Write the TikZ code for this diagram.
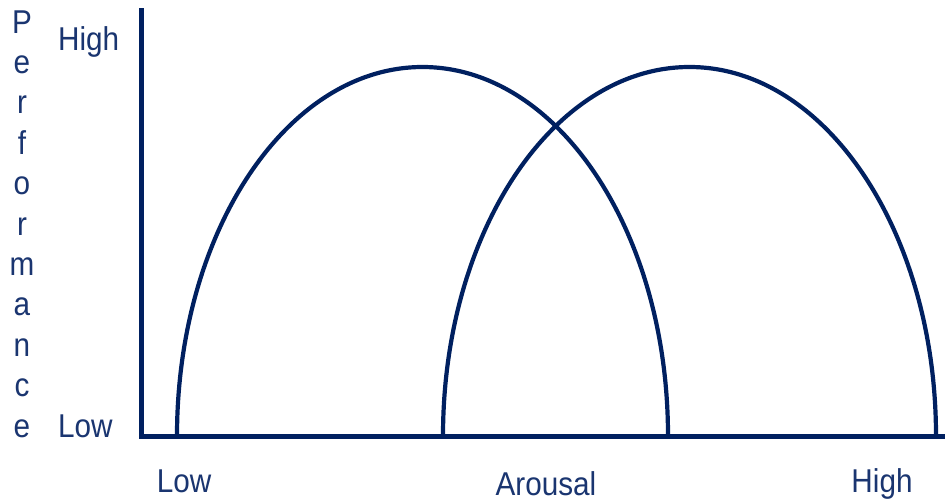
\documentclass[tikz,border=0pt]{standalone}
\usepackage{fontspec}
\setmainfont{Liberation Sans}[FakeStretch=0.9]
\definecolor{navy}{HTML}{002060}
\definecolor{txt}{HTML}{1A3570}
\begin{document}
\begin{tikzpicture}[x=1pt,y=-1pt,
  axisline/.style={draw=navy,line width=5pt,line cap=rect,line join=miter},
  curve/.style={draw=navy,line width=4.2pt},
  lbl/.style={text=txt,font=\fontsize{33}{33}\selectfont,inner sep=0pt,anchor=base},
  lblw/.style={lbl,anchor=base west}]
\useasboundingbox (0,0) rectangle (945,501);
\fill[white] (0,0) rectangle (945,501);
% axes
\coordinate (top) at (141.5,10);
\coordinate (origin) at (141.5,436.5);
\coordinate (right) at (947,436.5);
\draw[axisline] (top) -- (origin) -- (right);
% curves
\coordinate (foot1) at (177,436);
\coordinate (foot2) at (443,436);
\draw[curve] (foot1) arc[start angle=180,end angle=360,x radius=245.5,y radius=369];
\draw[curve] (foot2) arc[start angle=180,end angle=360,x radius=246.5,y radius=369];
% y labels
\node[lblw] (yhigh) at (58,50) {High};
\node[lblw] (ylow) at (58,437) {Low};
% x labels
\node[lbl] (xlow) at (184,492) {Low};
\node[lbl] (xmid) at (546,495) {Arousal};
\node[lbl] (xhigh) at (882,492) {High};
% vertical title
\foreach \ch [count=\i from 0] in {P,e,r,f,o,r,m,a,n,c,e}
  \node[lbl] (p\i) at (22,33+40.4*\i) {\ch};
\end{tikzpicture}
\end{document}
